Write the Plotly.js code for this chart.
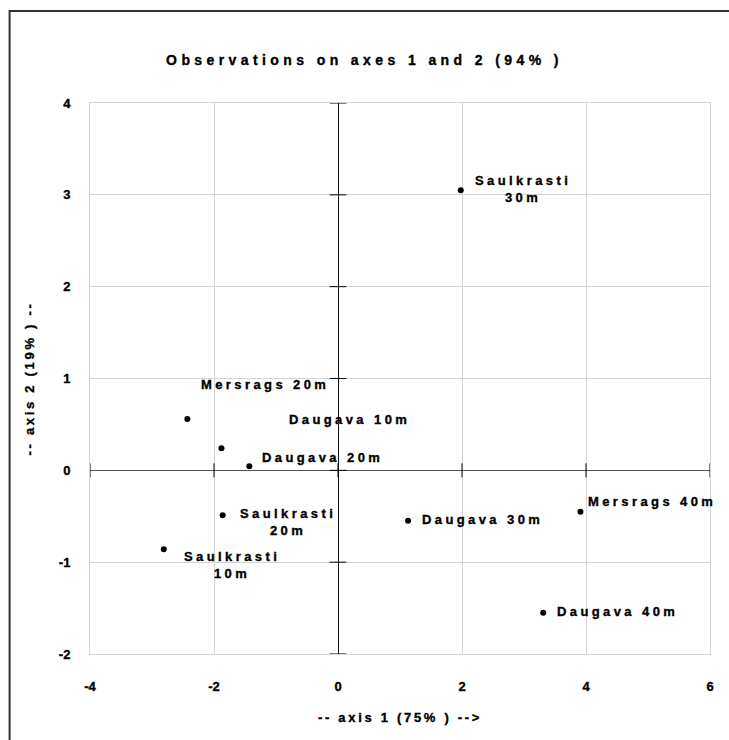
<!DOCTYPE html>
<html>
<head>
<meta charset="utf-8">
<script src="https://cdn.plot.ly/plotly-3.0.1.min.js"></script>
<style>
  html, body { margin: 0; padding: 0; background: #fff; }
  #chart { width: 729px; height: 740px; }
  .main-svg text { stroke: #000; stroke-width: 0.35px; }
  .annotation-text { letter-spacing: 3.4px; }
  .gtitle { letter-spacing: 4.4px; }
  .xtitle, .ytitle { letter-spacing: 2.7px; }
</style>
</head>
<body>
<div id="chart"></div>
<script>
// Observations (axis 1, axis 2)
const labels = ["Saulkrasti<br>30m", "Mersrags 20m", "Daugava 10m", "Daugava 20m",
                "Saulkrasti<br>20m", "Saulkrasti<br>10m", "Daugava 30m", "Mersrags 40m", "Daugava 40m"];
const axis1 = [1.98, -2.43, -1.88, -1.43, -1.86, -2.81, 1.13, 3.91, 3.31];
const axis2 = [3.05, 0.56, 0.24, 0.045, -0.49, -0.86, -0.55, -0.45, -1.55];

// label offsets in pixels (layout only)
const labelDx = [12, 12, 66, 11, 15, 18, 12, 6, 12];
const labelDy = [1, 34, 29, 9, -7, -16, 1, 10, 1];

const xTicks = [-4, -2, 0, 2, 4, 6];
const yTicks = [-2, -1, 0, 1, 2, 3, 4];

const font = "Liberation Sans, Arial, sans-serif";

const traces = [
  {
    x: axis1, y: axis2, type: "scatter", mode: "markers",
    marker: { color: "#000", size: 6 },
    hoverinfo: "skip", showlegend: false
  },
  { // tick marks on the horizontal axis line (y = 0)
    x: xTicks, y: xTicks.map(() => 0), type: "scatter", mode: "markers",
    marker: { symbol: "line-ns", size: 10, line: { color: "#000", width: 1 } },
    cliponaxis: false, hoverinfo: "skip", showlegend: false
  },
  { // tick marks on the vertical axis line (x = 0)
    x: yTicks.map(() => 0), y: yTicks, type: "scatter", mode: "markers",
    marker: { symbol: "line-ew", size: 12, line: { color: "#000", width: 1 } },
    cliponaxis: false, hoverinfo: "skip", showlegend: false
  }
];

const annotations = labels.map((t, i) => ({
  x: axis1[i], y: axis2[i], xref: "x", yref: "y",
  text: t, showarrow: false,
  xanchor: "left", yanchor: "middle", align: "center",
  xshift: labelDx[i], yshift: labelDy[i],
  font: { family: font, size: 13, color: "#000", weight: 700 }
}));

const layout = {
  width: 729, height: 740,
  margin: { l: 89.5, r: 19, t: 103, b: 86 },
  paper_bgcolor: "#fff", plot_bgcolor: "#fff",
  title: {
    text: "Observations on axes 1 and 2 (94% )",
    font: { family: font, size: 14, color: "#000", weight: 700 },
    x: 0.5, xanchor: "center", xref: "container",
    y: 0.919, yanchor: "middle", yref: "container"
  },
  xaxis: {
    range: [-4, 6], tickvals: xTicks, ticktext: xTicks.map(String),
    showgrid: true, gridcolor: "#d4d4d4", gridwidth: 1,
    showline: true, linecolor: "#d4d4d4", linewidth: 1, mirror: true,
    zeroline: true, zerolinecolor: "#111", zerolinewidth: 1,
    ticks: "", ticklabelstandoff: 20,
    tickfont: { family: font, size: 13, color: "#000", weight: 700 },
    title: { text: "-- axis 1 (75% ) -->", font: { family: font, size: 13, color: "#000", weight: 700 }, standoff: 20 },
    fixedrange: true
  },
  yaxis: {
    range: [-2, 4], tickvals: yTicks, ticktext: yTicks.map(String),
    showgrid: true, gridcolor: "#d4d4d4", gridwidth: 1,
    showline: true, linecolor: "#d4d4d4", linewidth: 1, mirror: true,
    zeroline: true, zerolinecolor: "#555", zerolinewidth: 1,
    ticks: "", ticklabelstandoff: 16,
    tickfont: { family: font, size: 13, color: "#000", weight: 700 },
    title: { text: "-- axis 2 (19% ) --", font: { family: font, size: 13, color: "#000", weight: 700 }, standoff: 21 },
    fixedrange: true
  },
  annotations: annotations,
  shapes: [{
    type: "rect", xref: "paper", yref: "paper",
    x0: -0.1297, x1: 1.2, y0: -0.3, y1: 1.167,
    line: { color: "#333", width: 2 }, fillcolor: "rgba(0,0,0,0)", layer: "above"
  }]
};

Plotly.newPlot("chart", traces, layout, { displayModeBar: false, staticPlot: true });
</script>
</body>
</html>
